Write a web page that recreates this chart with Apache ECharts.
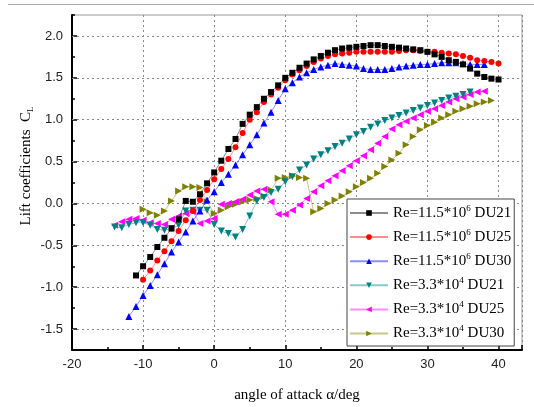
<!DOCTYPE html>
<html><head><meta charset="utf-8">
<script src="https://cdn.jsdelivr.net/npm/echarts@6/dist/echarts.min.js"></script>
<style>html,body{margin:0;padding:0;background:#fff}#c{width:534px;height:407px}</style>
</head><body><div id="c"></div>
<script>
// ---- data ----
const names = ['Re=11.5*10^6 DU21','Re=11.5*10^6 DU25','Re=11.5*10^6 DU30','Re=3.3*10^4 DU21','Re=3.3*10^4 DU25','Re=3.3*10^4 DU30'];
const alphaStart = [-11, -10, -12, -14, -14, -10];
const clHiDU21 = [-0.86,-0.75,-0.64,-0.52,-0.41,-0.30,-0.19,0.03,0.02,0.11,0.24,0.37,0.51,0.65,0.77,0.95,1.06,1.15,1.25,1.33,1.41,1.50,1.56,1.62,1.67,1.72,1.76,1.80,1.83,1.85,1.86,1.87,1.88,1.89,1.89,1.88,1.87,1.86,1.85,1.84,1.83,1.81,1.78,1.75,1.71,1.69,1.66,1.61,1.55,1.51,1.49,1.48];
const clHiDU25 = [-0.91,-0.80,-0.68,-0.57,-0.45,-0.33,-0.20,-0.09,0.04,0.16,0.29,0.41,0.53,0.67,0.84,1.00,1.09,1.21,1.30,1.38,1.47,1.54,1.59,1.64,1.69,1.73,1.76,1.78,1.79,1.80,1.81,1.81,1.81,1.81,1.81,1.81,1.82,1.83,1.83,1.82,1.81,1.81,1.80,1.79,1.78,1.76,1.74,1.71,1.70,1.69,1.67];
const clHiDU30 = [-1.35,-1.23,-1.10,-0.98,-0.85,-0.72,-0.58,-0.46,-0.34,-0.21,-0.09,0.04,0.14,0.25,0.35,0.46,0.58,0.70,0.82,0.96,1.09,1.23,1.37,1.44,1.51,1.56,1.60,1.63,1.65,1.67,1.66,1.65,1.64,1.61,1.60,1.60,1.60,1.61,1.63,1.64,1.65,1.66,1.66,1.67,1.68,1.68,1.68,1.67,1.66,1.66,1.66];
const clLoDU21 = [-0.28,-0.29,-0.25,-0.23,-0.23,-0.26,-0.31,-0.32,-0.30,-0.26,-0.09,-0.08,-0.08,-0.08,-0.25,-0.33,-0.36,-0.40,-0.31,-0.15,0.03,0.07,0.13,0.17,0.26,0.32,0.40,0.46,0.53,0.58,0.63,0.68,0.72,0.77,0.82,0.86,0.91,0.95,0.99,1.02,1.05,1.08,1.11,1.14,1.17,1.20,1.23,1.26,1.28,1.30,1.33];
const clLoDU25 = [-0.26,-0.22,-0.19,-0.18,-0.20,-0.23,-0.24,-0.25,-0.19,-0.15,-0.12,-0.10,-0.24,-0.21,-0.18,-0.01,0.00,0.02,0.05,0.10,0.15,0.17,0.02,-0.13,-0.13,-0.08,-0.02,0.06,0.14,0.21,0.27,0.33,0.39,0.45,0.51,0.57,0.64,0.72,0.80,0.89,0.94,0.98,1.02,1.06,1.10,1.13,1.17,1.21,1.25,1.27,1.30,1.33,1.34];
const clLoDU30 = [-0.07,-0.11,-0.14,-0.09,0.03,0.15,0.20,0.20,0.19,0.02,-0.12,-0.08,-0.04,-0.01,0.02,0.04,0.06,0.09,0.16,0.30,0.31,0.33,0.31,0.30,-0.10,-0.06,0.00,0.04,0.09,0.14,0.20,0.25,0.30,0.36,0.44,0.52,0.60,0.70,0.80,0.88,0.93,0.97,1.02,1.06,1.10,1.13,1.16,1.19,1.21,1.23];
const xTicks = [-20,-10,0,10,20,30,40];
const yTicks = [-1.5,-1.0,-0.5,0.0,0.5,1.0,1.5,2.0];

const allCL = [clHiDU21, clHiDU25, clHiDU30, clLoDU21, clLoDU25, clLoDU30];
const colors = ['#000000','#ff0000','#0000ff','#008080','#ff00ff','#808000'];
const symbols = ['rect','circle','triangle','triangle','triangle','triangle'];
const rotations = [0,0,0,180,90,-90];
const sizes = [6,6,7,7,7,7];

const series = allCL.map((arr, i) => ({
  name: names[i],
  type: 'line',
  data: arr.map((v, k) => [alphaStart[i] + k, v]),
  symbol: symbols[i],
  symbolRotate: rotations[i],
  symbolSize: sizes[i],
  showAllSymbol: true,
  itemStyle: {color: colors[i]},
  lineStyle: {color: colors[i], width: 1, opacity: 0.45},
  emphasis: {disabled: true},
  z: 10 - i
}));
// horizontal grid lines at the labelled y ticks
series.push({
  type: 'line', data: [], silent: true, z: 1,
  markLine: {symbol: 'none', silent: true, label: {show: false}, animation: false, z: 1,
    lineStyle: {color: '#888', type: [2, 3], width: 1},
    data: yTicks.map(v => ({yAxis: v}))}
});

const chart = echarts.init(document.getElementById('c'), null, {renderer: 'canvas'});
function legendFmt(n){
  const m = n.match(/^(Re=[\d.]+\*10)\^(\d)( DU\d+)$/);
  return '{a|' + m[1] + '}{s|' + m[2] + '}{a|' + m[3] + '}';
}
const yBase = {type: 'value', min: -1.75, max: 2.25, interval: 0.25, position: 'left'};
chart.setOption({
  animation: false,
  backgroundColor: '#fff',
  grid: {left: 72, right: 12, top: 15, bottom: 57, show: true, borderColor: '#999', borderWidth: 1},
  xAxis: {
    type: 'value', min: -20, max: 43.3, interval: 10,
    axisLine: {onZero: false, lineStyle: {color: '#000', width: 2}},
    axisTick: {inside: true, length: 5, lineStyle: {color: '#000', width: 1.5}},
    minorTick: {show: true, splitNumber: 2, length: 3, lineStyle: {color: '#000', width: 1.5}},
    splitLine: {show: true, lineStyle: {color: '#888', type: [2, 3], width: 1}},
    axisLabel: {showMaxLabel: false, color: '#222', fontFamily: 'Liberation Sans, Arial', fontSize: 13, margin: 8,
      formatter: v => (xTicks.indexOf(v) >= 0 ? String(v) : '')},
  },
  yAxis: [
    Object.assign({}, yBase, {
      axisLine: {show: true, onZero: false, lineStyle: {color: '#000', width: 2}},
      axisTick: {show: true, inside: true, length: 3, lineStyle: {color: '#000', width: 1.5}},
      splitLine: {show: false},
      axisLabel: {show: false}
    }),
    Object.assign({}, yBase, {
      axisLine: {show: false, onZero: false},
      axisTick: {show: true, inside: true, length: 5, customValues: yTicks, lineStyle: {color: '#000', width: 1.5}},
      splitLine: {show: false},
      axisLabel: {color: '#222', fontFamily: 'Liberation Sans, Arial', fontSize: 13, margin: 9,
        customValues: yTicks, formatter: v => v.toFixed(1)}
    })
  ],
  legend: {
    orient: 'vertical', left: 347, top: 199, z: 50, zlevel: 0,
    itemWidth: 38, itemHeight: 7, itemGap: 7.6,
    padding: [5, 3, 5, 2],
    backgroundColor: '#fff', borderColor: '#444', borderWidth: 1,
    selectedMode: false,
    formatter: legendFmt,
    textStyle: {
      color: '#000',
      rich: {
        a: {fontFamily: 'Liberation Serif, Times New Roman', fontSize: 15, lineHeight: 18, color: '#000'},
        s: {fontFamily: 'Liberation Serif, Times New Roman', fontSize: 9, lineHeight: 18, verticalAlign: 'top', color: '#000'}
      }
    },
    data: names
  },
  graphic: [
    {type: 'line', shape: {x1: 8, y1: 4.5, x2: 534, y2: 4.5}, style: {stroke: '#aaa', lineWidth: 1}},
    {type: 'text', x: 297, y: 395, style: {text: 'angle of attack α/deg', font: '15px "Liberation Serif", "Times New Roman"', fill: '#000', textAlign: 'center', textVerticalAlign: 'middle'}},
    {type: 'text', x: 26, y: 166, rotation: Math.PI / 2,
      style: {text: '{t|Lift coefficients  C}{b|L}', textAlign: 'center', textVerticalAlign: 'middle',
        rich: {t: {font: '15px "Liberation Serif", "Times New Roman"', fill: '#000', lineHeight: 18},
               b: {font: '9px "Liberation Serif", "Times New Roman"', fill: '#000', lineHeight: 18, verticalAlign: 'bottom'}}}}
  ],
  series: series
});
</script></body></html>
